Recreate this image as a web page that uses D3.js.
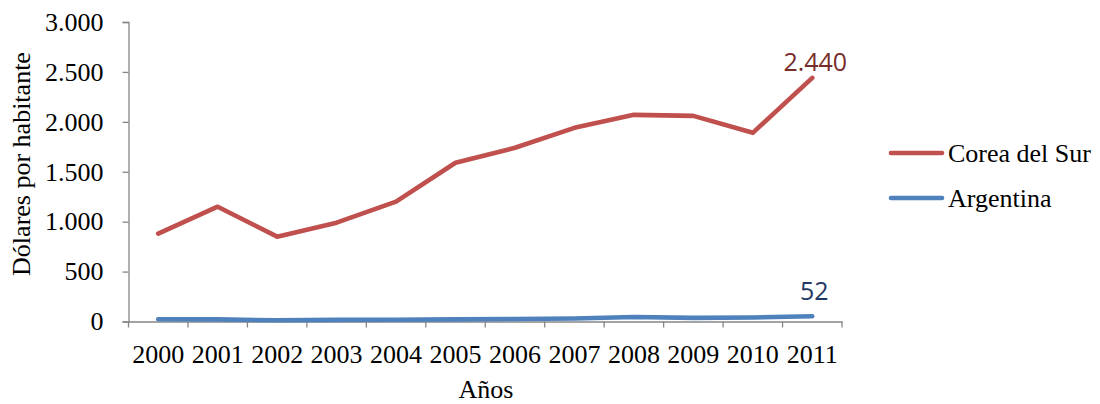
<!DOCTYPE html>
<html><head><meta charset="utf-8">
<script src="https://cdn.jsdelivr.net/npm/d3@7/dist/d3.min.js"></script>
<style>body{margin:0;background:#fff}svg{display:block}</style>
</head><body><svg id="c" width="1100" height="404"></svg>
<script>
const years = ["2000","2001","2002","2003","2004","2005","2006","2007","2008","2009","2010","2011"];
const corea = [880,1150,850,990,1200,1590,1740,1940,2070,2060,1890,2440];
const argentina = [22,21,12,16,17,21,25,30,45,36,40,52];
const yTicks = [0,500,1000,1500,2000,2500,3000];
const seriesNames = ["Corea del Sur","Argentina"];
const colors = ["#C0504D","#4F81BD"];
const labelColors = ["#772C2A","#1F3864"];

const svg = d3.select("#c");
const L=128.5, R=842, T=22, B=321.5;
const x = d3.scaleBand().domain(years).range([L,R]);
const y = d3.scaleLinear().domain([0,3000]).range([B,T]);
const fmt = v => d3.format(",")(v).replace(/,/g,".");
const serif = "'Liberation Serif','Times New Roman',serif";
const FS = 26;

// y axis
const ya = svg.append("g").attr("transform",`translate(${L},0)`)
  .call(d3.axisLeft(y).tickValues(yTicks).tickSize(6).tickPadding(19).tickFormat(fmt));
ya.select(".domain").attr("stroke","#868686").attr("stroke-width",1.3);
ya.selectAll(".tick line").attr("stroke","#868686").attr("stroke-width",1.3);
ya.selectAll("text").attr("font-family",serif).attr("font-size",FS).attr("fill","#000");

// x axis
const xa = svg.append("g").attr("transform",`translate(0,${B})`)
  .call(d3.axisBottom(x).tickSize(0));
xa.select(".domain").attr("stroke","#868686").attr("stroke-width",1.3);
xa.selectAll("text").attr("font-family",serif).attr("font-size",FS).attr("fill","#000")
  .attr("y",41).attr("dy",0);
const bounds = years.map(d=>x(d)).concat([R]);
svg.append("g").selectAll("line").data(bounds).join("line")
  .attr("x1",d=>d).attr("x2",d=>d).attr("y1",B).attr("y2",B+6)
  .attr("stroke","#868686").attr("stroke-width",1.3);

// lines
const cx = d => x(d)+x.bandwidth()/2;
const line = d3.line().x((v,i)=>cx(years[i])).y(v=>y(v));
[corea,argentina].forEach((s,i)=>{
  svg.append("path").datum(s).attr("d",line).attr("fill","none")
    .attr("stroke",colors[i]).attr("stroke-width",4.6)
    .attr("stroke-linecap","round").attr("stroke-linejoin","round");
});

// data labels
const last = years.length-1;
const sans = "'Open Sans','Noto Sans',sans-serif";
svg.append("text").attr("x",cx(years[last])+3).attr("y",y(corea[last])-7)
  .attr("text-anchor","middle").attr("font-family",sans)
  .attr("font-size",25).attr("fill",labelColors[0]).text(fmt(corea[last]));
svg.append("text").attr("x",cx(years[last])+2).attr("y",y(argentina[last])-16)
  .attr("text-anchor","middle").attr("font-family",sans)
  .attr("font-size",25).attr("fill",labelColors[1]).text(fmt(argentina[last]));

// axis titles
svg.append("text").attr("transform","translate(30,164) rotate(-90)")
  .attr("text-anchor","middle").attr("font-family",serif).attr("font-size",FS).text("Dólares por habitante");
svg.append("text").attr("x",486).attr("y",398)
  .attr("text-anchor","middle").attr("font-family",serif).attr("font-size",FS).text("Años");

// legend
seriesNames.forEach((n,i)=>{
  const ly = 153 + i*45;
  svg.append("line").attr("x1",891).attr("x2",942).attr("y1",ly).attr("y2",ly)
    .attr("stroke",colors[i]).attr("stroke-width",4.6).attr("stroke-linecap","round");
  svg.append("text").attr("x",948).attr("y",ly+8.5).attr("font-family",serif)
    .attr("font-size",FS).text(n);
});
</script></body></html>
